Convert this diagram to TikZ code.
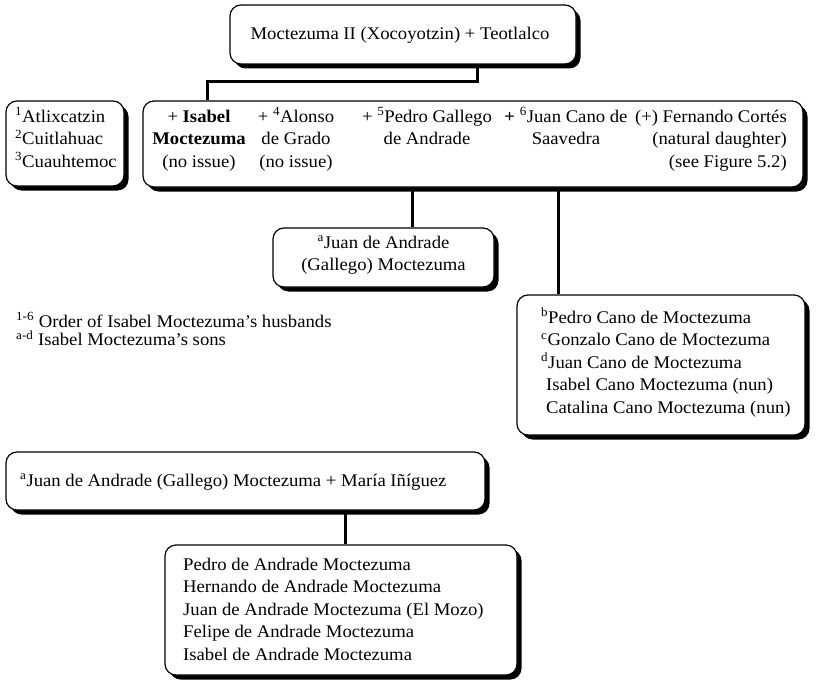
\documentclass[tikz,border=0pt]{standalone}
\usepackage{fontspec}
\setmainfont{Liberation Serif}[FakeStretch=1.05]
\usetikzlibrary{shadows}
\begin{document}
\begin{tikzpicture}[x=1pt,y=-1pt,
  famebox/.style={draw, line width=1.2pt, rounded corners=11pt, fill=white,
    inner sep=0pt,
    general shadow={fill=black, shadow xshift=4.5pt, shadow yshift=-4.5pt}},
  link/.style={line width=3pt},
  txt/.style={inner sep=0pt, font=\fontsize{17.8}{22.6}\selectfont, align=#1},
  txt/.default=center]
\useasboundingbox (0,0) rectangle (817,685);

% boxes
\node[famebox, minimum width=346, minimum height=59] (top)  at (403,34.5) {};
\node[famebox, minimum width=118, minimum height=85] (sib)  at (65,143.5) {};
\node[famebox, minimum width=660, minimum height=86] (big)  at (473,144) {};
\node[famebox, minimum width=221, minimum height=59] (juan) at (383.5,257.5) {};
\node[famebox, minimum width=288, minimum height=140] (cano) at (661,365) {};
\node[famebox, minimum width=479, minimum height=58] (jm)   at (245.5,481) {};
\node[famebox, minimum width=352, minimum height=130] (kids) at (341,610) {};

% texts (multi-line nodes sit on the baseline of their last line)
\node[txt, anchor=base] (toptxt) at (400,40) {Moctezuma II (Xocoyotzin) + Teotlalco};
\node[txt=left, anchor=base west] (sibtxt) at (15,167.2)
  {\textsuperscript{1}Atlixcatzin\\\textsuperscript{2}Cuitlahuac\\\textsuperscript{3}Cuauhtemoc};
\node[txt, anchor=base] (c1) at (199,167.2)
  {+ \textbf{Isabel}\\\textbf{Moctezuma}\\(no issue)};
\node[txt, anchor=base] (c2) at (296,167.2)
  {+ \textsuperscript{4}Alonso\\de Grado\\(no issue)};
\node[txt, anchor=base] (c3) at (427,144.6)
  {+ \textsuperscript{5}Pedro Gallego\\de Andrade};
\node[txt, anchor=base] (c4) at (566,144.6)
  {\textbf{+} \textsuperscript{6}Juan Cano de\\Saavedra};
\node[txt=right, anchor=base east] (c5) at (787,167.2)
  {(+) Fernando Cortés\\(natural daughter)\\(see Figure 5.2)};
\node[txt, anchor=base] (juantxt) at (383.5,270.6)
  {\textsuperscript{a}Juan de Andrade\\(Gallego) Moctezuma};
\node[txt=left, anchor=base west] (canotxt) at (541,413.4)
  {\textsuperscript{b}Pedro Cano de Moctezuma\\
   \textsuperscript{c}Gonzalo Cano de Moctezuma\\
   \textsuperscript{d}Juan Cano de Moctezuma\\
   \hspace{5pt}Isabel Cano Moctezuma (nun)\\
   \hspace{5pt}Catalina Cano Moctezuma (nun)};
\node[inner sep=0pt, align=left, anchor=base west,
      font=\fontsize{17.8}{18.3}\selectfont] (legend) at (16,345.3)
  {\textsuperscript{1-6} Order of Isabel Moctezuma’s husbands\\
   \textsuperscript{a-d} Isabel Moctezuma’s sons};
\node[txt, anchor=base west] (jmtxt) at (20,486)
  {\textsuperscript{a}Juan de Andrade (Gallego) Moctezuma + María Iñíguez};
\node[txt=left, anchor=base west] (kidstxt) at (183,660.4)
  {Pedro de Andrade Moctezuma\\
   Hernando de Andrade Moctezuma\\
   Juan de Andrade Moctezuma (El Mozo)\\
   Felipe de Andrade Moctezuma\\
   Isabel de Andrade Moctezuma};

% connectors
\coordinate (jt) at (477,82);
\coordinate (jb) at (207,82);
\coordinate (dp) at (412,208);
\coordinate (dc) at (558,240);
\coordinate (dk) at (345,528);
\draw[link] (top.south -| jt) -- (jt) -- (jb) -- (big.north -| jb);
\draw[link] (big.south -| dp) -- (juan.north -| dp);
\draw[link] (big.south -| dc) -- (cano.north -| dc);
\draw[link] (jm.south -| dk) -- (kids.north -| dk);
\end{tikzpicture}
\end{document}
